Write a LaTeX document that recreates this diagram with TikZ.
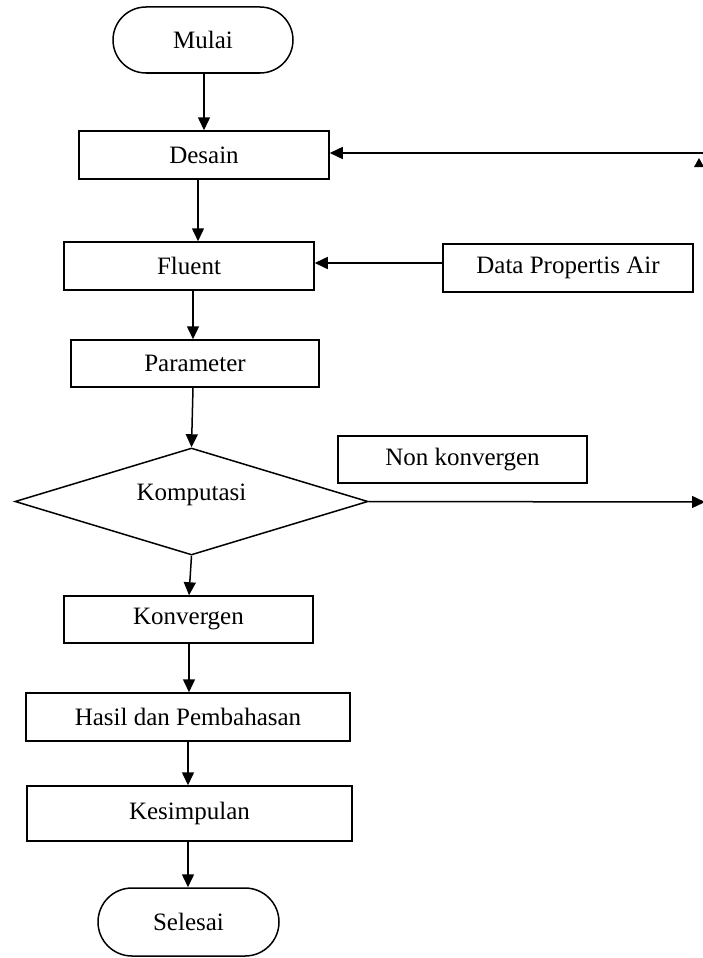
\documentclass[tikz,border=0pt]{standalone}
\usepackage{fontspec}
\setmainfont{Liberation Serif}
\usetikzlibrary{shapes.geometric,shapes.misc,arrows.meta}
\tikzset{
  box/.style={draw,rectangle,line width=1.5pt,inner sep=0pt,minimum height=48pt},
  term/.style={draw,rounded rectangle,line width=1.5pt,inner sep=0pt},
  arr/.style={line width=1.5pt,-{Triangle[length=13pt,width=12pt]}}
}
\begin{document}
\begin{tikzpicture}[x=1pt,y=-1pt,font=\fontsize{25}{30}\selectfont]
  \useasboundingbox (0,0) rectangle (703,958);
  \node[term,minimum width=180pt,minimum height=66pt] (mulai) at (203,40) {Mulai};
  \node[box,minimum width=250pt] (desain) at (204,155) {Desain};
  \node[box,minimum width=250pt] (fluent) at (189,266) {Fluent};
  \node[box,minimum width=250pt] (data) at (568,268) {Data Propertis Air};
  \node[box,minimum width=248pt,minimum height=47pt] (parameter) at (195,363.5) {Parameter};
  \node[draw,diamond,line width=1.5pt,inner sep=0pt,minimum width=353pt,minimum height=107pt] (komputasi) at (191.5,501.5) {};
  \node at (191.5,495) {Komputasi};
  \node[box,minimum width=249pt,minimum height=47pt] (nonkonv) at (462.5,459.5) {Non konvergen};
  \node[box,minimum width=249pt,minimum height=47pt] (konvergen) at (188.5,619.5) {Konvergen};
  \node[box,minimum width=324pt] (hasil) at (188,717) {Hasil dan Pembahasan};
  \node[box,minimum width=325pt,minimum height=55pt] (kesimpulan) at (189.5,813.5) {Kesimpulan};
  \node[term,minimum width=181pt,minimum height=68pt] (selesai) at (188.5,922) {Selesai};
  \coordinate (loopin) at (703,153);
  \coordinate (nkend) at (705,502);
  \draw[arr] (mulai.south -| 204,0) -- (desain.north -| 204,0);
  \draw[arr] (desain.south -| 198,0) -- (fluent.north -| 198,0);
  \draw[arr] (data.west |- 0,263) -- (fluent.east |- 0,263);
  \draw[arr] (fluent.south -| 193,0) -- (parameter.north -| 193,0);
  \draw[arr] (parameter.south -| 193,0) -- (komputasi.north);
  \draw[arr] (komputasi.south) -- (konvergen.north -| 189,0);
  \draw[arr] (konvergen.south -| 189,0) -- (hasil.north -| 189,0);
  \draw[arr] (hasil.south -| 188,0) -- (kesimpulan.north -| 188,0);
  \draw[arr] (kesimpulan.south -| 188,0) -- (selesai.north -| 188,0);
  \draw[arr] (komputasi.east) -- (nkend);
  \draw[arr] (loopin) -- (desain.east |- loopin);
  \fill (694,167) -- (699,158) -- (704,167) -- cycle;
\end{tikzpicture}
\end{document}
